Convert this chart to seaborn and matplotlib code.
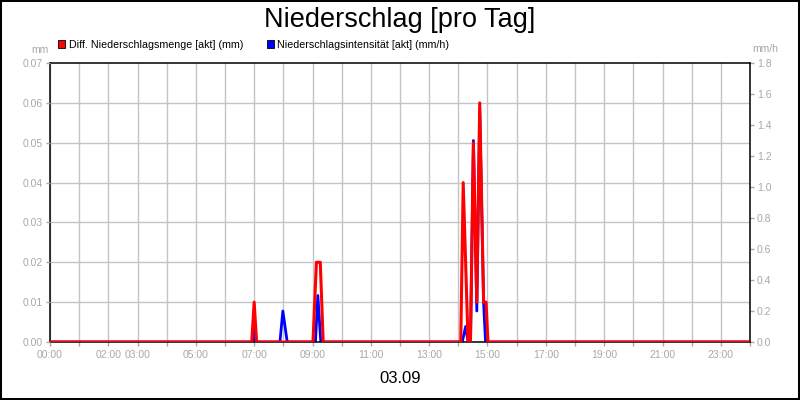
import matplotlib
matplotlib.use("Agg")
import matplotlib.pyplot as plt
import seaborn as sns
from matplotlib.ticker import FixedLocator, MultipleLocator
from matplotlib.patches import Patch, Rectangle

# ---------------- data ----------------
title = "Niederschlag [pro Tag]"
date_label = "03.09"
amount_label = "Diff. Niederschlagsmenge [akt] (mm)"
intensity_label = "Niederschlagsintensität [akt] (mm/h)"
left_unit = "mm"
right_unit = "mm/h"

amount_times = ["00:00", "06:55", "07:00", "07:05", "09:01", "09:08", "09:16", "09:22",
                "14:05", "14:10", "14:20", "14:25", "14:31", "14:38", "14:44", "14:52",
                "14:57", "15:01", "24:00"]
amount_values = [0, 0, 0.01, 0, 0, 0.02, 0.02, 0,
                 0, 0.04, 0, 0, 0.05, 0.01, 0.06, 0.01,
                 0.01, 0, 0]

intensity_times = ["00:00", "06:57", "07:00", "07:03", "07:53", "07:59", "08:08",
                   "09:06", "09:11", "09:17", "14:08", "14:15", "14:20", "14:25",
                   "14:31", "14:38", "14:44", "14:52", "14:56", "24:00"]
intensity_values = [0, 0, 0.1, 0, 0, 0.2, 0,
                    0, 0.3, 0, 0, 0.1, 0, 0,
                    1.3, 0.2, 1.5, 0.25, 0, 0]

x_tick_labels = ["00:00", "02:00", "03:00", "05:00", "07:00", "09:00", "11:00",
                 "13:00", "15:00", "17:00", "19:00", "21:00", "23:00"]
left_ticks = [0.00, 0.01, 0.02, 0.03, 0.04, 0.05, 0.06, 0.07]
left_tick_labels = ["0.00", "0.01", "0.02", "0.03", "0.04", "0.05", "0.06", "0.07"]
right_ticks = [0.0, 0.2, 0.4, 0.6, 0.8, 1.0, 1.2, 1.4, 1.6, 1.8]
right_tick_labels = ["0.0", "0.2", "0.4", "0.6", "0.8", "1.0", "1.2", "1.4", "1.6", "1.8"]


def to_hours(s):
    h, m = s.split(":")
    return int(h) + int(m) / 60.0


amount_x = [to_hours(t) for t in amount_times]
intensity_x = [to_hours(t) for t in intensity_times]
x_tick_pos = [to_hours(t) for t in x_tick_labels]

# ---------------- style ----------------
plt.rcParams['font.family'] = ['Liberation Sans', 'DejaVu Sans']
TICK_GREY = "#a8a8a8"
GRID_GREY = "#c4c4c4"
RED = "#ff0000"
BLUE = "#0000ff"

fig = plt.figure(figsize=(8, 4), dpi=100)
fig.patch.set_facecolor("white")

ax_i = fig.add_axes([50 / 800, 58 / 400, 700 / 800, 279 / 400])  # base axes: intensity (right scale)
ax_a = ax_i.twinx()                                                   # amount (left scale), drawn on top

ax_i.yaxis.tick_right()
ax_i.yaxis.set_label_position("right")
ax_a.yaxis.tick_left()
ax_a.yaxis.set_label_position("left")

# lines
sns.lineplot(x=intensity_x, y=intensity_values, ax=ax_i, color=BLUE, linewidth=2.0,
             estimator=None, sort=False, legend=False)
sns.lineplot(x=amount_x, y=amount_values, ax=ax_a, color=RED, linewidth=2.2,
             estimator=None, sort=False, legend=False)

# limits
ax_i.set_xlim(0, 24)
ax_a.set_xlim(0, 24)
ax_a.set_ylim(left_ticks[0], left_ticks[-1])
ax_i.set_ylim(right_ticks[0], right_ticks[-1])

for a in (ax_i, ax_a):
    a.set_xlabel("")
    a.set_ylabel("")

# x ticks
ax_i.xaxis.set_major_locator(FixedLocator(x_tick_pos))
ax_i.set_xticklabels(x_tick_labels)
ax_i.xaxis.set_minor_locator(MultipleLocator(1))
ax_i.tick_params(axis="x", which="both", direction="out", length=3, width=1,
                 color=TICK_GREY, labelcolor=TICK_GREY, labelsize=7.5, pad=3,
                 top=False, bottom=True)

# right y ticks (intensity)
ax_i.set_yticks(right_ticks)
ax_i.set_yticklabels(right_tick_labels)
ax_i.tick_params(axis="y", which="major", direction="out", length=3, width=1,
                 color=TICK_GREY, labelcolor=TICK_GREY, labelsize=7.5, pad=2,
                 left=False, right=True, labelleft=False, labelright=True)
# horizontal grid aligned with left-axis ticks
scale = right_ticks[-1] / left_ticks[-1]
ax_i.yaxis.set_minor_locator(FixedLocator([v * scale for v in left_ticks]))
ax_i.tick_params(axis="y", which="minor", length=0)

# left y ticks (amount)
ax_a.set_yticks(left_ticks)
ax_a.set_yticklabels(left_tick_labels)
ax_a.tick_params(axis="y", which="major", direction="out", length=3, width=1,
                 color=TICK_GREY, labelcolor=TICK_GREY, labelsize=7.5, pad=2,
                 left=True, right=False, labelleft=True, labelright=False)

# grid on base axes
ax_i.set_axisbelow(True)
ax_i.grid(which="both", axis="x", color=GRID_GREY, linewidth=1)
ax_i.grid(which="minor", axis="y", color=GRID_GREY, linewidth=1)
ax_i.grid(which="major", axis="y", visible=False)

for s in ax_i.spines.values():
    s.set_color("black")
    s.set_linewidth(1.1)
for s in ax_a.spines.values():
    s.set_visible(False)

# unit labels
fig.text(40 / 800, 1 - 50 / 400, left_unit, ha="center", va="center",
         fontsize=7.5, color=TICK_GREY)
fig.text(765 / 800, 1 - 49 / 400, right_unit, ha="center", va="center",
         fontsize=7.5, color=TICK_GREY)

# title and date
fig.text(0.5, 1 - 27.3 / 400, title, ha="center", va="baseline", fontsize=19.5, color="black")
fig.text(0.5, 1 - 383 / 400, date_label, ha="center", va="baseline", fontsize=12, color="black")

# legend
handles = [Patch(facecolor=RED, edgecolor="black", linewidth=0.6),
           Patch(facecolor=BLUE, edgecolor="black", linewidth=0.6)]
fig.legend(handles, [amount_label, intensity_label], loc="center left",
           bbox_to_anchor=(58 / 800, 1 - 44.7 / 400), ncol=2, frameon=False,
           fontsize=7.7, handlelength=0.7, handleheight=0.7, handletextpad=0.3,
           columnspacing=2.2, borderpad=0, borderaxespad=0)

# figure border
fig.add_artist(Rectangle((0, 0), 1, 1, transform=fig.transFigure, fill=False,
                         edgecolor="black", linewidth=2.9))

fig.savefig("out.png", dpi=100, facecolor="white")
